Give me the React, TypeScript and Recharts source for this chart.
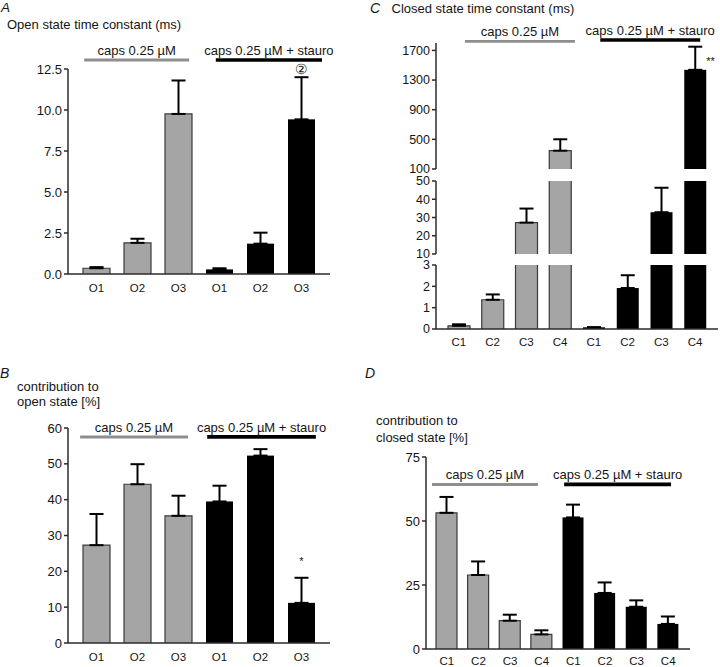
import React from 'react';
import { BarChart, Bar, XAxis, YAxis, ErrorBar, ReferenceLine, ReferenceDot } from 'recharts';

const FONT = '"Liberation Sans", Arial, Helvetica, sans-serif';
const GRAY = '#a5a5a5';
const GRAY_EDGE = '#3a3a3a';
const GROUP_GRAY = '#8e8e8e';
const AXIS = '#2b2b2b';
const TEXT = '#151515';

const openStates = ['O1', 'O2', 'O3'];
const closedStates = ['C1', 'C2', 'C3', 'C4'];
const capsLabel = 'caps 0.25 µM';
const stauroLabel = 'caps 0.25 µM + stauro';

// A: open state time constant (ms), mean and SEM
const capsOpenTau = [0.35, 1.9, 9.76];
const capsOpenTauSem = [0.07, 0.25, 2.04];
const stauroOpenTau = [0.28, 1.85, 9.43];
const stauroOpenTauSem = [0.07, 0.67, 2.57];
const openTauTicks = [0, 2.5, 5, 7.5, 10, 12.5];

// B: contribution to open state (%)
const capsOpenContrib = [27.3, 44.3, 35.5];
const capsOpenContribSem = [8.7, 5.6, 5.6];
const stauroOpenContrib = [39.5, 52.3, 11.2];
const stauroOpenContribSem = [4.4, 1.8, 7.0];
const openContribTicks = [0, 10, 20, 30, 40, 50, 60];

// C: closed state time constant (ms), broken axis
const capsClosedTau = [0.15, 1.37, 27.2, 347];
const capsClosedTauSem = [0.07, 0.25, 7.7, 154];
const stauroClosedTau = [0.08, 1.92, 32.9, 1438];
const stauroClosedTauSem = [0, 0.6, 13.4, 312];
const closedTauTicksTop = [100, 500, 900, 1300, 1700];
const closedTauTicksMid = [10, 20, 30, 40, 50];
const closedTauTicksLow = [0, 1, 2, 3];

// D: contribution to closed state (%)
const capsClosedContrib = [53.2, 28.9, 11.05, 5.7];
const capsClosedContribSem = [6.2, 5.3, 2.35, 1.6];
const stauroClosedContrib = [51.4, 21.9, 16.5, 9.8];
const stauroClosedContribSem = [5.0, 4.1, 2.5, 2.9];
const closedContribTicks = [0, 25, 50, 75];

type Row = {
  key: string;
  group: string;
  slot: number;
  value: number | null;
  err?: number[];
  capped?: boolean;
};

function buildRows(states: string[], caps: number[], capsSem: number[], st: number[], stSem: number[]): Row[] {
  const a = states.map((s, i) => ({ key: `caps-${s}`, group: 'caps', value: caps[i], err: [0, capsSem[i]] }));
  const b = states.map((s, i) => ({ key: `stauro-${s}`, group: 'stauro', value: st[i], err: [0, stSem[i]] }));
  return [...a, ...b].map((r, i) => ({ ...r, slot: i + 0.5 }));
}

// clip rows into one segment of a broken axis
function segment(rows: Row[], lo: number, hi: number): Row[] {
  return rows.map((r) => {
    const v = r.value as number;
    const inside = v > lo && v <= hi;
    return {
      ...r,
      value: v > lo ? Math.min(v, hi) : null,
      err: inside ? r.err : undefined,
      capped: v > hi,
    };
  });
}

const rowsA = buildRows(openStates, capsOpenTau, capsOpenTauSem, stauroOpenTau, stauroOpenTauSem);
const rowsB = buildRows(openStates, capsOpenContrib, capsOpenContribSem, stauroOpenContrib, stauroOpenContribSem);
const rowsC = buildRows(closedStates, capsClosedTau, capsClosedTauSem, stauroClosedTau, stauroClosedTauSem);
const rowsD = buildRows(closedStates, capsClosedContrib, capsClosedContribSem, stauroClosedContrib, stauroClosedContribSem);

function StateBar(props: any) {
  const { x, y, width, height } = props;
  const p = props.payload || {};
  if (!height || height <= 0) return null;
  if (p.group === 'caps') {
    const edge = p.capped
      ? `M${x},${y} V${y + height} M${x + width},${y} V${y + height}`
      : `M${x},${y + height} V${y} H${x + width} V${y + height}`;
    return (
      <g>
        <rect x={x} y={y} width={width} height={height} fill={GRAY} />
        <path d={edge} stroke={GRAY_EDGE} strokeWidth={1.2} fill="none" />
      </g>
    );
  }
  return <rect x={x} y={y} width={width} height={height} fill="#000" />;
}

function NoteLabel(props: any) {
  const vb = props.viewBox || {};
  const cx = (vb.x ?? 0) + (vb.width ?? 0) / 2;
  const cy = (vb.y ?? 0) + (vb.height ?? 0) / 2;
  return (
    <text x={cx + (props.dx || 0)} y={cy + (props.dy || 0)} textAnchor={props.anchor || 'middle'} fontSize={props.size || 12} fill={TEXT}>
      {props.text}
    </text>
  );
}

type Group = { from: number; to: number; y: number; label: string; color: string; w: number };
type Note = { key: string; y: number; text: string; dx?: number; dy?: number; anchor?: string; size?: number };

type PanelProps = {
  rows: Row[];
  left: number;
  top: number;
  width: number;
  height: number;
  margin: { top: number; right: number; bottom: number; left: number };
  domain: number[];
  ticks: number[];
  fmt?: (v: number) => string;
  pad: { left: number; right: number };
  barSize: number;
  showX?: boolean;
  xHeight?: number;
  xTickMargin?: number;
  tickFont?: number;
  groups?: Group[];
  notes?: Note[];
};

function Panel(p: PanelProps) {
  const n = p.rows.length;
  return (
    <div style={{ position: 'absolute', left: p.left, top: p.top }}>
      <BarChart width={p.width} height={p.height} data={p.rows} margin={p.margin} barSize={p.barSize}>
        <XAxis
          dataKey="key"
          type="category"
          hide={!p.showX}
          height={p.xHeight || 30}
          padding={p.pad}
          interval={0}
          tickLine={false}
          tickSize={0}
          tickMargin={p.xTickMargin || 8}
          axisLine={{ stroke: AXIS, strokeWidth: 1.5 }}
          tick={{ fill: TEXT, fontSize: 11.5 }}
          tickFormatter={(v: any) => String(v).split('-')[1]}
        />
        <XAxis xAxisId="g" dataKey="slot" type="number" domain={[0, n]} hide padding={p.pad} allowDataOverflow />
        <YAxis
          width={60}
          type="number"
          domain={p.domain}
          ticks={p.ticks}
          interval={0}
          allowDataOverflow
          tickSize={4}
          tickMargin={2}
          tickLine={{ stroke: AXIS, strokeWidth: 1.5 }}
          axisLine={{ stroke: AXIS, strokeWidth: 1.5 }}
          tick={{ fill: TEXT, fontSize: p.tickFont || 13 }}
          tickFormatter={p.fmt}
        />
        <Bar dataKey="value" isAnimationActive={false} shape={(props: any) => <StateBar {...props} />}>
          <ErrorBar dataKey="err" width={7} strokeWidth={2} stroke="#000" direction="y" isAnimationActive={false} />
        </Bar>
        {(p.groups || []).map((g, i) => (
          <ReferenceLine
            key={`g${i}`}
            xAxisId="g"
            ifOverflow="visible"
            segment={[{ x: g.from, y: g.y }, { x: g.to, y: g.y }]}
            stroke={g.color}
            strokeWidth={g.w}
            label={{ value: g.label, position: 'top', offset: 5, fill: TEXT, fontSize: 13 }}
          />
        ))}
        {(p.notes || []).map((nt, i) => (
          <ReferenceDot
            key={`n${i}`}
            x={nt.key}
            y={nt.y}
            r={0}
            ifOverflow="visible"
            stroke="none"
            fill="none"
            label={<NoteLabel text={nt.text} dx={nt.dx} dy={nt.dy} anchor={nt.anchor} size={nt.size} />}
          />
        ))}
      </BarChart>
    </div>
  );
}

const padOpen = { left: 8, right: 8 };
const padClosedTau = { left: 6, right: 6 };
const padClosedContrib = { left: 5, right: 6 };

export default function App() {
  return (
    <div style={{ position: 'absolute', left: 0, top: 0, width: 720, height: 667, background: '#fff', fontFamily: FONT, overflow: 'hidden' }}>
      <style>{'.recharts-surface { overflow: visible; }'}</style>
      <svg width={720} height={667} style={{ position: 'absolute', left: 0, top: 0 }}>
        <g fill={TEXT} fontSize={13}>
          <text x={1} y={11.5} fontSize={13.5} fontStyle="italic">A</text>
          <text x={7} y={28.5}>Open state time constant (ms)</text>
          <text x={370} y={13} fontSize={14} fontStyle="italic">C</text>
          <text x={391.5} y={13}>Closed state time constant (ms)</text>
          <text x={0} y={378} fontSize={14} fontStyle="italic">B</text>
          <text x={17} y={391}>contribution to</text>
          <text x={17} y={405.5}>open state [%]</text>
          <text x={365} y={378} fontSize={14} fontStyle="italic">D</text>
          <text x={376} y={425}>contribution to</text>
          <text x={376} y={441.5}>closed state [%]</text>
        </g>
      </svg>

      <Panel
        rows={rowsA}
        left={0}
        top={0}
        width={360}
        height={310}
        margin={{ top: 69, right: 30, bottom: 6, left: 8 }}
        domain={[0, 12.5]}
        ticks={openTauTicks}
        fmt={(v) => v.toFixed(1)}
        pad={padOpen}
        barSize={27}
        showX
        xHeight={30}
        xTickMargin={10}
        groups={[
          { from: 0.2, to: 2.76, y: 13.05, label: capsLabel, color: GROUP_GRAY, w: 2.8 },
          { from: 3.41, to: 6.0, y: 13.05, label: stauroLabel, color: '#000', w: 3.6 },
        ]}
        notes={[{ key: 'stauro-O3', y: 12.0, text: '②', dy: -3, size: 14 }]}
      />

      <Panel
        rows={rowsB}
        left={0}
        top={330}
        width={360}
        height={337}
        margin={{ top: 98, right: 30, bottom: 2, left: 8 }}
        domain={[0, 60]}
        ticks={openContribTicks}
        pad={padOpen}
        barSize={27}
        showX
        xHeight={22}
        xTickMargin={9.5}
        groups={[
          { from: 0.1, to: 2.73, y: 57.5, label: capsLabel, color: GROUP_GRAY, w: 3 },
          { from: 3.2, to: 5.85, y: 57.5, label: stauroLabel, color: '#000', w: 3.8 },
        ]}
        notes={[{ key: 'stauro-O3', y: 18.2, text: '*', dy: -13, size: 11 }]}
      />

      <Panel
        rows={segment(rowsC, 100, 1800)}
        left={360}
        top={0}
        width={360}
        height={170}
        margin={{ top: 43, right: 2, bottom: 1, left: 16 }}
        domain={[100, 1800]}
        ticks={closedTauTicksTop}
        pad={padClosedTau}
        barSize={22}
        tickFont={12.5}
        groups={[
          { from: 0.68, to: 3.94, y: 1823, label: capsLabel, color: GROUP_GRAY, w: 2.8 },
          { from: 4.69, to: 7.65, y: 1840, label: stauroLabel, color: '#000', w: 3.6 },
        ]}
        notes={[{ key: 'stauro-C4', y: 1438, text: '**', dx: 11, dy: -5, anchor: 'start', size: 11 }]}
      />
      <Panel
        rows={segment(rowsC, 10, 50)}
        left={360}
        top={170}
        width={360}
        height={90}
        margin={{ top: 11, right: 2, bottom: 6, left: 16 }}
        domain={[10, 50]}
        ticks={closedTauTicksMid}
        pad={padClosedTau}
        barSize={22}
        tickFont={12.5}
      />
      <Panel
        rows={segment(rowsC, 0, 3)}
        left={360}
        top={260}
        width={360}
        height={100}
        margin={{ top: 5, right: 2, bottom: 1, left: 16 }}
        domain={[0, 3]}
        ticks={closedTauTicksLow}
        pad={padClosedTau}
        barSize={22}
        tickFont={12.5}
        showX
        xHeight={30}
        xTickMargin={9}
      />

      <Panel
        rows={rowsD}
        left={360}
        top={340}
        width={360}
        height={327}
        margin={{ top: 117, right: 30, bottom: 2, left: 6 }}
        domain={[0, 75]}
        ticks={closedContribTicks}
        pad={padClosedContrib}
        barSize={21}
        showX
        xHeight={16}
        xTickMargin={8}
        groups={[
          { from: 0.03, to: 3.38, y: 64.3, label: capsLabel, color: GROUP_GRAY, w: 3 },
          { from: 4.21, to: 7.59, y: 64.3, label: stauroLabel, color: '#000', w: 3.8 },
        ]}
      />
    </div>
  );
}
